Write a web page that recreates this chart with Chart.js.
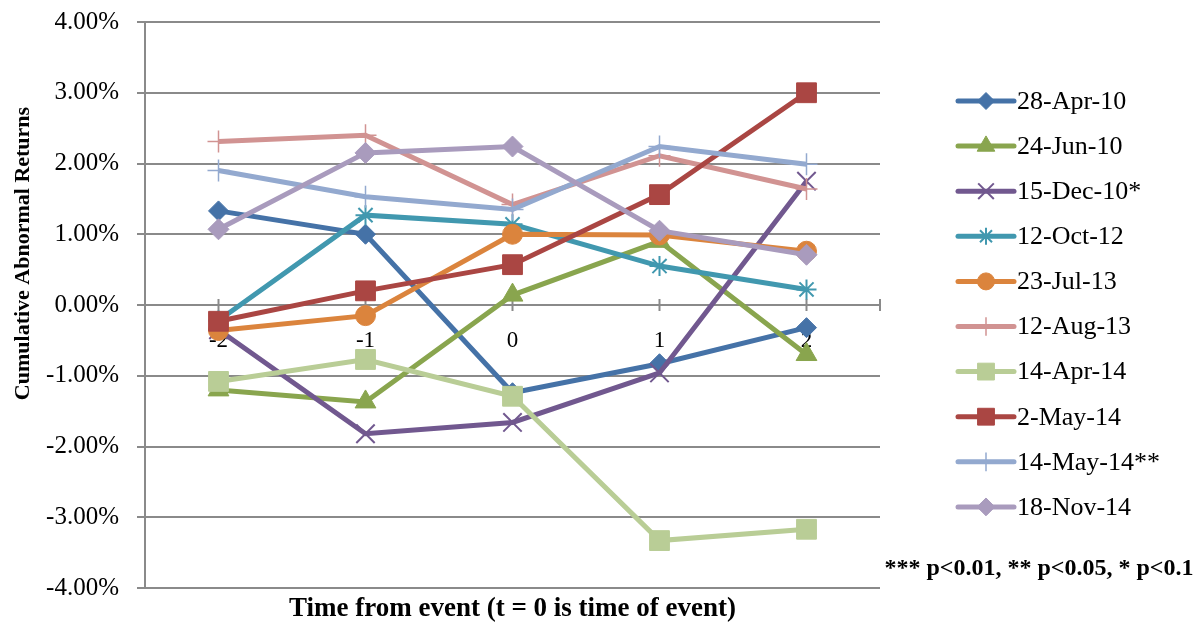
<!DOCTYPE html>
<html>
<head>
<meta charset="utf-8">
<script src="https://cdn.jsdelivr.net/npm/chart.js@4.4.1/dist/chart.umd.min.js"></script>
<style>
  html, body { margin: 0; padding: 0; background: #ffffff; }
  #wrap { width: 1202px; height: 623px; }
</style>
</head>
<body>
<div id="wrap"><canvas id="c" width="1202" height="623"></canvas></div>
<script>
// Event-window days (t = 0 is the event day)
const days = ['-2', '-1', '0', '1', '2'];

// Event names
const eventNames = ['28-Apr-10', '24-Jun-10', '15-Dec-10*', '12-Oct-12', '23-Jul-13',
                    '12-Aug-13', '14-Apr-14', '2-May-14', '14-May-14**', '18-Nov-14'];

// Cumulative abnormal returns, in percent
const car_28Apr10  = [1.33, 1.00, -1.24, -0.83, -0.32];
const car_24Jun10  = [-1.20, -1.37, 0.14, 0.90, -0.70];
const car_15Dec10  = [-0.35, -1.82, -1.66, -0.96, 1.75];
const car_12Oct12  = [-0.22, 1.27, 1.14, 0.55, 0.22];
const car_23Jul13  = [-0.36, -0.15, 1.00, 0.99, 0.76];
const car_12Aug13  = [2.31, 2.40, 1.42, 2.11, 1.64];
const car_14Apr14  = [-1.08, -0.77, -1.29, -3.33, -3.17];
const car_2May14   = [-0.23, 0.20, 0.57, 1.56, 3.00];
const car_14May14  = [1.90, 1.53, 1.35, 2.24, 1.99];
const car_18Nov14  = [1.07, 2.15, 2.24, 1.05, 0.71];

// Y-axis tick values (percent)
const yTicks = [-4, -3, -2, -1, 0, 1, 2, 3, 4];

const footnote = '*** p<0.01, ** p<0.05, * p<0.1';
const xTitle = 'Time from event (t = 0 is time of event)';
const yTitle = 'Cumulative Abnormal Returns';

const seriesValues = [car_28Apr10, car_24Jun10, car_15Dec10, car_12Oct12, car_23Jul13,
                      car_12Aug13, car_14Apr14, car_2May14, car_14May14, car_18Nov14];

const styles = [
  { color: '#4572A7', pointStyle: 'rectRot',  radius: 10, pbw: 1 },
  { color: '#89A54E', pointStyle: 'triangle', radius: 12, pbw: 1 },
  { color: '#71588F', pointStyle: 'crossRot', radius: 13, pbw: 2 },
  { color: '#4198AF', pointStyle: 'star',     radius: 10, pbw: 2 },
  { color: '#DB843D', pointStyle: 'circle',   radius: 10, pbw: 1 },
  { color: '#D19392', pointStyle: 'cross',    radius: 11, pbw: 1.5 },
  { color: '#B9CD96', pointStyle: 'rect',     radius: 14, pbw: 1 },
  { color: '#AA4643', pointStyle: 'rect',     radius: 14, pbw: 1 },
  { color: '#93A9CF', pointStyle: 'cross',    radius: 11, pbw: 1.5 },
  { color: '#A99BBD', pointStyle: 'rectRot',  radius: 10.5, pbw: 1 }
];

const serif = '"Liberation Serif", "Times New Roman", serif';
const gridColor = '#8a8a8a';
const lineW = 5;

const datasets = eventNames.map((name, i) => ({
  label: name,
  data: seriesValues[i],
  borderColor: styles[i].color,
  backgroundColor: styles[i].color,
  borderWidth: lineW,
  pointStyle: styles[i].pointStyle,
  pointRadius: styles[i].radius,
  pointHoverRadius: styles[i].radius,
  pointBackgroundColor: styles[i].color,
  pointBorderColor: styles[i].color,
  pointBorderWidth: styles[i].pbw,
  tension: 0,
  order: eventNames.length - i
}));

// Axis decorations, legend and text blocks
const decor = {
  id: 'decor',
  beforeDatasetsDraw(chart) {
    const { ctx, chartArea, scales } = chart;
    const y0 = scales.y.getPixelForValue(0);
    ctx.save();
    ctx.strokeStyle = gridColor;
    ctx.lineWidth = 2;
    const xs = days.map((d, i) => scales.x.getPixelForValue(i));
    xs.push(chartArea.right);
    xs.forEach(px => {
      ctx.beginPath();
      ctx.moveTo(px, y0 - 6);
      ctx.lineTo(px, y0 + 6);
      ctx.stroke();
    });
    ctx.restore();
  },
  afterDraw(chart) {
    const { ctx, chartArea } = chart;
    ctx.save();
    // legend
    const lx0 = chartArea.right + 78;
    const lx1 = lx0 + 56;
    const ly0 = chartArea.top + 79;
    const step = 45.1;
    chart.data.datasets.forEach((ds, i) => {
      const ly = ly0 + i * step;
      ctx.strokeStyle = ds.borderColor;
      ctx.lineWidth = lineW;
      ctx.lineCap = 'round';
      ctx.beginPath();
      ctx.moveTo(lx0, ly);
      ctx.lineTo(lx1, ly);
      ctx.stroke();
      ctx.lineCap = 'butt';
      ctx.fillStyle = ds.pointBackgroundColor;
      ctx.strokeStyle = ds.pointBorderColor;
      ctx.lineWidth = ds.pointBorderWidth;
      Chart.helpers.drawPoint(ctx, {
        pointStyle: ds.pointStyle,
        radius: ds.pointRadius * 0.85,
        rotation: 0,
        borderWidth: ds.pointBorderWidth
      }, (lx0 + lx1) / 2, ly);
      ctx.fillStyle = '#000';
      ctx.font = '26px ' + serif;
      ctx.textAlign = 'left';
      ctx.textBaseline = 'middle';
      ctx.fillText(ds.label, lx1 + 3, ly + 1);
    });
    // footnote
    ctx.fillStyle = '#000';
    ctx.font = 'bold 24px ' + serif;
    ctx.textAlign = 'center';
    ctx.textBaseline = 'middle';
    ctx.fillText(footnote, chartArea.right + 159, chartArea.bottom - 19);
    // x-axis title
    ctx.font = 'bold 27px ' + serif;
    ctx.fillText(xTitle, (chartArea.left + chartArea.right) / 2, chartArea.bottom + 21);
    // y-axis title
    ctx.translate(23, chartArea.top + 231.5);
    ctx.rotate(-Math.PI / 2);
    ctx.font = 'bold 22px ' + serif;
    ctx.fillText(yTitle, 0, 0);
    ctx.restore();
  }
};

new Chart(document.getElementById('c'), {
  type: 'line',
  data: { labels: days, datasets },
  options: {
    responsive: false,
    animation: false,
    events: [],
    layout: { padding: { top: 22, right: 322, bottom: 35, left: 0 } },
    plugins: {
      legend: { display: false },
      tooltip: { enabled: false },
      title: { display: false }
    },
    scales: {
      x: {
        type: 'category',
        position: { y: 0 },
        offset: true,
        z: 1,
        grid: { display: false },
        border: { display: false },
        ticks: {
          color: '#000',
          font: { family: serif, size: 23 },
          padding: 14,
          maxRotation: 0
        }
      },
      y: {
        min: -4,
        max: 4,
        afterFit(scale) {
          scale.width = 145;
          scale.paddingTop = 0;
          scale.paddingBottom = 0;
        },
        afterBuildTicks(scale) { scale.ticks = yTicks.map(v => ({ value: v })); },
        grid: {
          color: gridColor,
          lineWidth: 2,
          drawTicks: true,
          tickLength: 8
        },
        border: { display: true, color: gridColor, width: 2 },
        ticks: {
          color: '#000',
          font: { family: serif, size: 25 },
          padding: 18,
          callback: v => v.toFixed(2) + '%'
        }
      }
    }
  },
  plugins: [decor]
});
</script>
</body>
</html>
